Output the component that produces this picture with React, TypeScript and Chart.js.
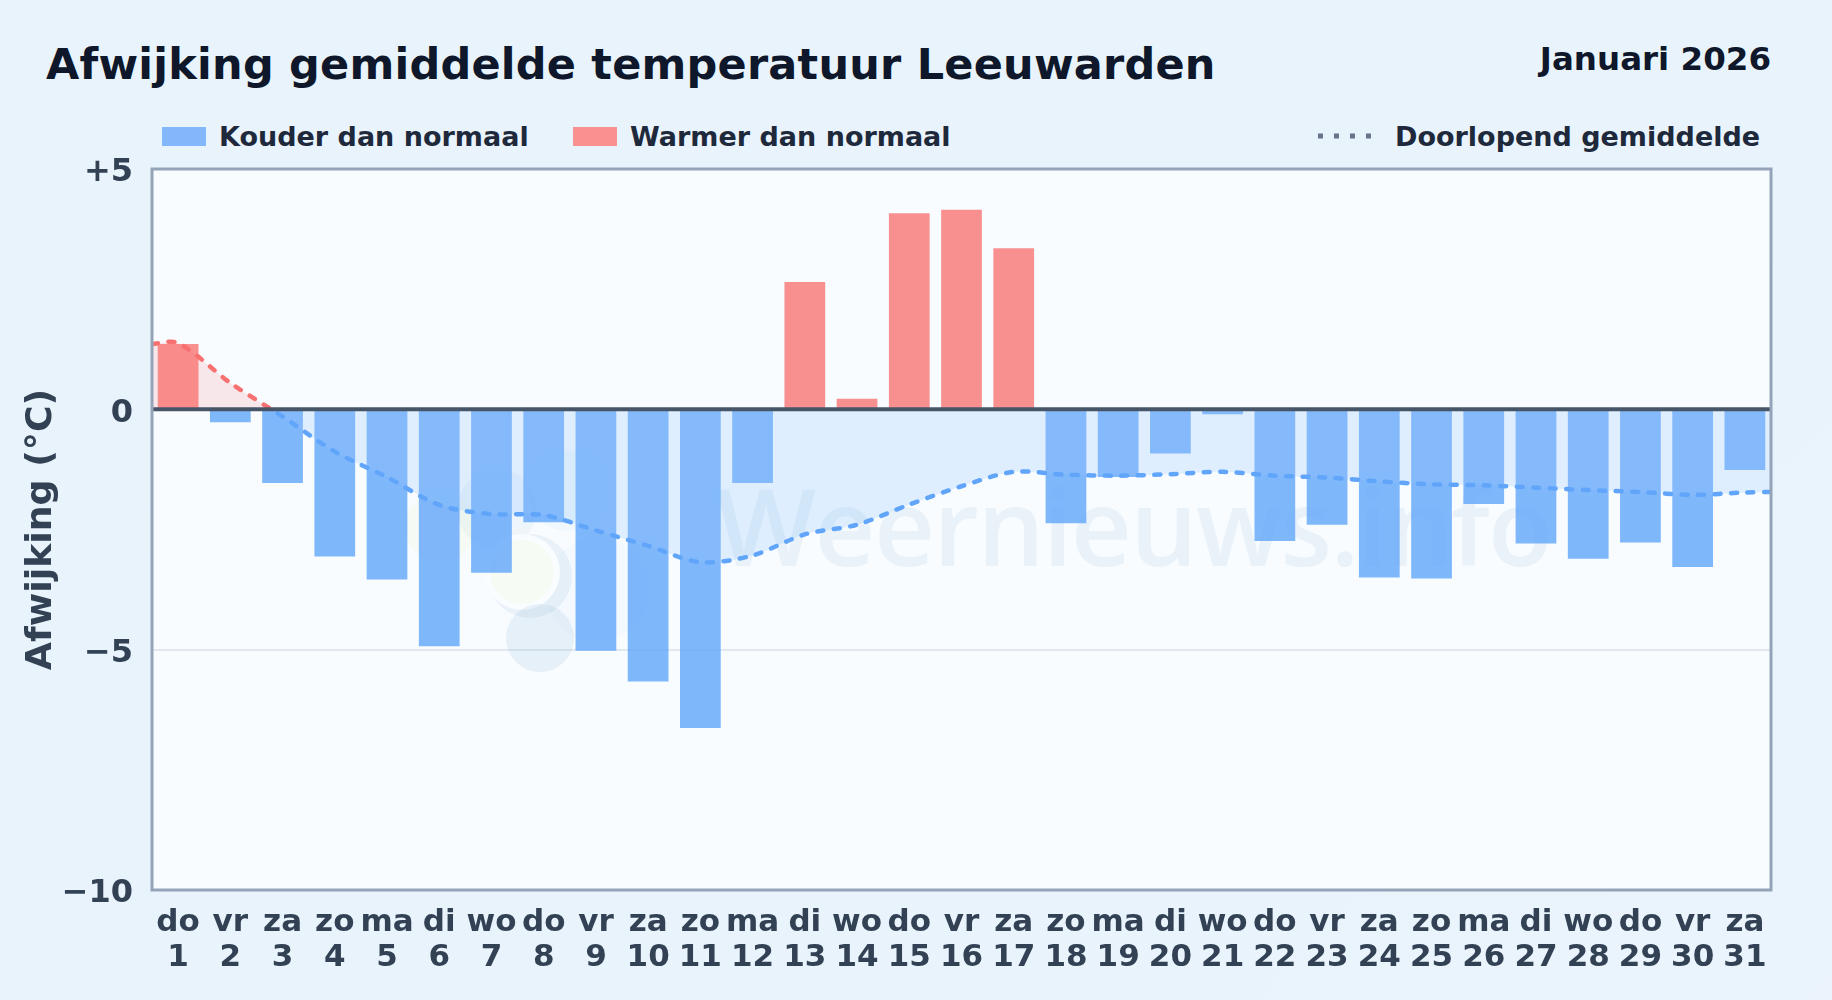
import React, { useEffect, useRef } from "react";
import { Chart, registerables } from "chart.js";

Chart.register(...registerables);

const weekdays = ["do","vr","za","zo","ma","di","wo","do","vr","za","zo","ma","di","wo","do","vr","za","zo","ma","di","wo","do","vr","za","zo","ma","di","wo","do","vr","za"];
const days = [1,2,3,4,5,6,7,8,9,10,11,12,13,14,15,16,17,18,19,20,21,22,23,24,25,26,27,28,29,30,31];
const deviations = [1.36,-0.27,-1.53,-3.06,-3.54,-4.93,-3.4,-2.35,-5.02,-5.66,-6.63,-1.53,2.65,0.22,4.08,4.15,3.35,-2.37,-1.41,-0.92,-0.1,-2.74,-2.4,-3.5,-3.52,-1.97,-2.79,-3.11,-2.77,-3.28,-1.26];
const meanDays = [0.5,1,2,3,4,5,6,7,8,9,10,11,12,13,14,15,16,17,18,19,20,21,22,23,24,25,26,27,28,29,30,31,31.5];
const runningMean = [1.36,1.38,0.55,-0.15,-0.88,-1.41,-1.99,-2.18,-2.2,-2.52,-2.84,-3.18,-3.04,-2.6,-2.4,-1.98,-1.6,-1.3,-1.36,-1.38,-1.35,-1.3,-1.38,-1.42,-1.5,-1.56,-1.58,-1.63,-1.68,-1.72,-1.78,-1.73,-1.72];
const yTicks = [5, 0, -5, -10];

const FONT = "'DejaVu Sans', sans-serif";
const COLD = "rgba(96,165,250,0.8)";
const WARM = "rgba(248,113,113,0.78)";

const plotFrame = {
  id: "plotFrame",
  beforeDraw(chart: any) {
    const { ctx, chartArea: a } = chart;
    ctx.save();
    ctx.fillStyle = "#f8fcff";
    ctx.fillRect(a.left, a.top, a.width, a.height);
    ctx.restore();
  },
  beforeDatasetsDraw(chart: any) {
    const { ctx, chartArea: a } = chart;
    ctx.save();
    ctx.beginPath();
    ctx.rect(a.left, a.top, a.width, a.height);
    ctx.clip();
    ctx.fillStyle = "rgba(50,120,170,0.075)";
    ctx.font = `600 106px 'Open Sans', sans-serif`;
    (ctx as any).letterSpacing = "-1.7px";
    ctx.textAlign = "left";
    ctx.textBaseline = "alphabetic";
    ctx.fillText("Weernieuws.info", 716, 566);
    (ctx as any).letterSpacing = "0px";
    const disc = (x: number, y: number, r: number, fill: string) => {
      ctx.fillStyle = fill;
      ctx.beginPath();
      ctx.arc(x, y, r, 0, Math.PI * 2);
      ctx.fill();
    };
    disc(568, 491, 40, "rgba(120,180,240,0.06)");
    disc(497, 509, 40, "rgba(50,120,170,0.05)");
    disc(440, 527, 35, "rgba(225,235,150,0.1)");
    disc(597, 590, 52, "rgba(120,180,240,0.04)");
    disc(530, 576, 42, "rgba(50,120,170,0.07)");
    disc(522, 572, 38, "rgba(250,253,255,0.95)");
    disc(522, 572, 32, "rgba(235,240,170,0.13)");
    disc(540, 638, 34, "rgba(50,120,170,0.085)");
    ctx.restore();
  },
  afterDatasetsDraw(chart: any) {
    const { ctx, chartArea: a, scales } = chart;
    const zero = scales.y.getPixelForValue(0);
    ctx.save();
    ctx.strokeStyle = "#475569";
    ctx.lineWidth = 4;
    ctx.beginPath();
    ctx.moveTo(a.left, zero);
    ctx.lineTo(a.right, zero);
    ctx.stroke();
    ctx.strokeStyle = "#94a3b8";
    ctx.lineWidth = 3;
    ctx.strokeRect(a.left, a.top, a.width, a.height);
    ctx.restore();
  },
};

function lineGradient(c: any) {
  const { chart } = c;
  const { ctx, chartArea: a, scales } = chart;
  if (!a) return "#60a5fa";
  const f = (scales.y.getPixelForValue(0) - a.top) / a.height;
  const g = ctx.createLinearGradient(0, a.top, 0, a.bottom);
  g.addColorStop(0, "#f87171");
  g.addColorStop(f, "#f87171");
  g.addColorStop(f, "#60a5fa");
  g.addColorStop(1, "#60a5fa");
  return g;
}

const legendText: React.CSSProperties = {
  position: "absolute",
  top: 121,
  fontSize: 27,
  lineHeight: "32px",
  fontWeight: 700,
  color: "#1e293b",
  fontFamily: FONT,
  whiteSpace: "nowrap",
};
const swatch = (left: number, background: string): React.CSSProperties => ({
  position: "absolute",
  left,
  top: 127,
  width: 44,
  height: 19,
  background,
});

export default function App() {
  const ref = useRef<HTMLCanvasElement>(null);
  useEffect(() => {
    const chart = new Chart(ref.current!, {
      data: {
        datasets: [
          {
            type: "line",
            label: "Doorlopend gemiddelde",
            data: meanDays.map((x, i) => ({ x, y: runningMean[i] })),
            borderColor: lineGradient,
            borderWidth: 4.5,
            borderDash: [6, 10.5],
            borderCapStyle: "round",
            pointRadius: 0,
            tension: 0.3,
            fill: { target: { value: 0 }, above: "rgba(248,113,113,0.15)", below: "rgba(147,197,253,0.26)" },
            order: 1,
          },
          {
            type: "bar",
            label: "Afwijking",
            data: days.map((x, i) => ({ x, y: deviations[i] })),
            backgroundColor: deviations.map((v) => (v < 0 ? COLD : WARM)),
            categoryPercentage: 1,
            barPercentage: 0.78,
            order: 2,
          },
        ],
      } as any,
      options: {
        responsive: false,
        animation: false,
        devicePixelRatio: 1,
        layout: { padding: { left: 0, top: 169, right: 61, bottom: 0 } },
        plugins: { legend: { display: false }, tooltip: { enabled: false } },
        scales: {
          x: {
            type: "linear",
            offset: false,
            min: 0.5,
            max: 31.5,
            grid: { display: false },
            border: { display: false },
            afterBuildTicks: (s: any) => { s.ticks = days.map((value) => ({ value })); },
            afterFit: (s: any) => { s.height = 110; },
            ticks: {
              autoSkip: false,
              maxRotation: 0,
              padding: 7,
              color: "#334155",
              font: { family: FONT, size: 31, weight: "bold", lineHeight: 1.13 },
              callback: (v: any) => [weekdays[v - 1], String(v)],
            },
          },
          y: {
            type: "linear",
            min: -10,
            max: 5,
            afterBuildTicks: (s: any) => { s.ticks = yTicks.map((value) => ({ value })); },
            afterFit: (s: any) => { s.width = 152; },
            border: { display: false },
            grid: {
              drawTicks: false,
              lineWidth: 2,
              color: (c: any) => (c.tick.value === -5 ? "#e2e8f0" : "rgba(0,0,0,0)"),
            },
            title: {
              display: true,
              text: "Afwijking (°C)",
              color: "#334155",
              font: { family: FONT, size: 36.3, weight: "bold" },
              padding: { top: 20, bottom: 0 },
            },
            ticks: {
              padding: 19,
              labelOffset: 4,
              color: "#334155",
              font: { family: FONT, size: 32, weight: "bold" },
              callback: (v: any) => (v > 0 ? `+${v}` : v < 0 ? `\u2212${-v}` : "0"),
            },
          },
        },
      } as any,
      plugins: [plotFrame],
    } as any);
    return () => chart.destroy();
  }, []);

  return (
    <div style={{ position: "fixed", left: 0, top: 0, width: 1832, height: 1000, overflow: "hidden", background: "linear-gradient(135deg,#e9f3fb,#e8f3fc 60%,#ebf4fc)" }}>
      <div style={{ position: "absolute", left: 46, top: 35, fontFamily: FONT, fontWeight: 700, fontSize: 43, lineHeight: "58px", color: "#0f172a", letterSpacing: 0.22, whiteSpace: "nowrap" }}>
        Afwijking gemiddelde temperatuur Leeuwarden
      </div>
      <div style={{ position: "absolute", right: 61, top: 39, fontFamily: FONT, fontWeight: 700, fontSize: 32.5, lineHeight: "40px", color: "#0f172a", whiteSpace: "nowrap" }}>
        Januari 2026
      </div>
      <div style={swatch(162, "#82b8fb")} />
      <div style={{ ...legendText, left: 219 }}>Kouder dan normaal</div>
      <div style={swatch(573, "#fa9090")} />
      <div style={{ ...legendText, left: 630 }}>Warmer dan normaal</div>
      <svg style={{ position: "absolute", left: 1316, top: 130 }} width="60" height="12">
        <line x1="2" y1="6" x2="58" y2="6" stroke="#64748b" strokeWidth="5" strokeDasharray="5 11" />
      </svg>
      <div style={{ ...legendText, left: 1395 }}>Doorlopend gemiddelde</div>
      <canvas ref={ref} width={1832} height={1000} style={{ position: "absolute", left: 0, top: 0, display: "block" }} />
    </div>
  );
}
